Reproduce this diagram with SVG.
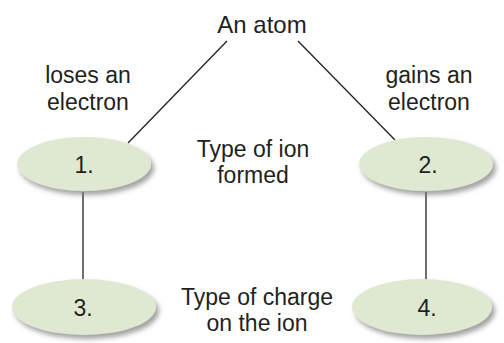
<svg xmlns="http://www.w3.org/2000/svg" width="504" height="343" viewBox="0 0 504 343">
<defs>
<filter id="sh" x="-20%" y="-30%" width="140%" height="170%">
<feDropShadow dx="3" dy="4" stdDeviation="2.5" flood-color="#7a7a7a" flood-opacity="0.7"/>
</filter>
</defs>
<style>
text{font-family:"Liberation Sans",Arial,sans-serif;font-size:23px;fill:#231f20;text-anchor:middle}
.node ellipse{fill:#dfe9d2;filter:url(#sh)}
.conn line{stroke:#231f20;stroke-width:1.3}
</style>
<rect width="504" height="343" fill="#fff"/>
<g class="conn">
<line x1="227" y1="41" x2="128" y2="143"/>
<line x1="298" y1="41" x2="395" y2="140"/>
<line x1="83" y1="192" x2="83" y2="280"/>
<line x1="426" y1="192" x2="426" y2="280"/>
</g>
<g id="atom"><text x="262" y="33" style="font-size:24px">An atom</text></g>
<g id="lose-label"><text x="88" y="83">loses an</text><text x="88" y="110">electron</text></g>
<g id="gain-label"><text x="429" y="83">gains an</text><text x="429" y="110">electron</text></g>
<g id="ion-label"><text x="253" y="157">Type of ion</text><text x="253" y="183">formed</text></g>
<g id="charge-label"><text x="257" y="305">Type of charge</text><text x="257" y="331">on the ion</text></g>
<g id="n1" class="node"><ellipse cx="84" cy="164" rx="67" ry="27"/><text x="84" y="173">1.</text></g>
<g id="n2" class="node"><ellipse cx="426" cy="164" rx="67" ry="27"/><text x="428" y="173">2.</text></g>
<g id="n3" class="node"><ellipse cx="84" cy="307" rx="72" ry="28"/><text x="83" y="316">3.</text></g>
<g id="n4" class="node"><ellipse cx="422" cy="307" rx="70" ry="28"/><text x="427" y="316">4.</text></g>
</svg>
